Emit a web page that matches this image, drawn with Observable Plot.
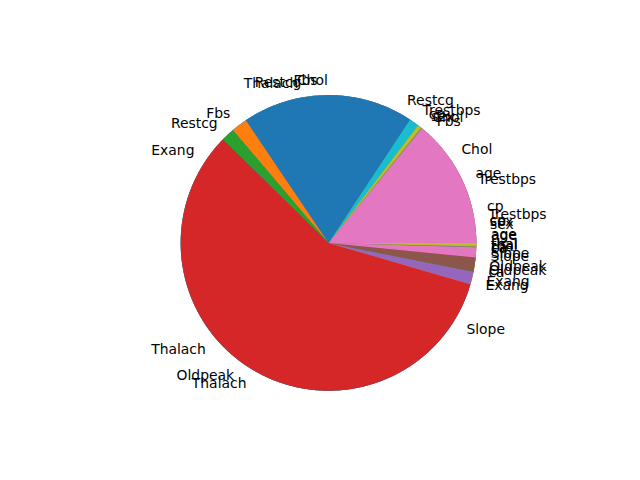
<!DOCTYPE html>
<html><head><meta charset="utf-8">
<script src="https://cdn.jsdelivr.net/npm/d3@7"></script>
<script src="https://cdn.jsdelivr.net/npm/@observablehq/plot@0.6"></script>
<style>body{margin:0;background:#fff}</style>
</head><body><div id="chart"></div>
<script>
// Slice labels (same 13 features in each of the three overdrawn pies)
const labels = ["age", "sex", "cp", "Trestbps", "Chol", "Fbs", "Restcg", "Thalach", "Exang", "Oldpeak", "Slope", "ca", "thal"];
// Shares (in degrees of the circle), one array per pie, drawn in this order
const pie1Values = [5.0, 5.4, 4.8, 15.8, 8.4, 17.8, 7.8, 71.4, 18.2, 159.8, 27.2, 16.0, 2.4];
const pie2Values = [5.6, 1.8, 0.8, 3.8, 76.6, 10.6, 0.8, 242.0, 5.5, 5.5, 4.5, 1.0, 1.5];
const pie3Values = [50.8, 0.3, 1.7, 3.7, 67.5, 6.3, 5.3, 208.2, 4.9, 5.6, 4.0, 0.3, 1.4];
// matplotlib tab10 cycle, continued across pies
const palette = ["#1f77b4", "#ff7f0e", "#2ca02c", "#d62728", "#9467bd", "#8c564b", "#e377c2", "#7f7f7f", "#bcbd22", "#17becf"];

const pies = [pie1Values, pie2Values, pie3Values];
const wedges = [], texts = [];
let colorIndex = 0;
pies.forEach((vals, p) => {
  const arcs = d3.pie().sort(null).value(d => d)(vals);
  arcs.forEach((a, i) => {
    const color = palette[colorIndex++ % palette.length];
    const key = p + "-" + i;
    const n = Math.max(2, Math.ceil((a.endAngle - a.startAngle) / (Math.PI / 360)));
    wedges.push({key, color, x: 0, y: 0});
    for (let k = 0; k <= n; k++) {
      const t = a.startAngle + (a.endAngle - a.startAngle) * k / n;
      wedges.push({key, color, x: Math.cos(t), y: Math.sin(t)});
    }
    const mid = (a.startAngle + a.endAngle) / 2;
    texts.push({label: labels[i], x: 1.1 * Math.cos(mid), y: 1.1 * Math.sin(mid)});
  });
});

const plot = Plot.plot({
  width: 640, height: 480,
  marginLeft: 143.2, marginRight: 127.2, marginTop: 57.6, marginBottom: 52.8,
  x: {domain: [-1.25, 1.25], axis: null},
  y: {domain: [-1.25, 1.25], axis: null},
  color: {type: "identity"},
  style: {fontFamily: "DejaVu Sans", fontSize: "13.9px", background: "white", color: "black"},
  marks: [
    Plot.line(wedges, {x: "x", y: "y", z: "key", fill: "color", stroke: "none", curve: "linear-closed"}),
    Plot.text(texts.filter(d => d.x > 0), {x: "x", y: "y", text: "label", textAnchor: "start", fontSize: 13.9, fill: "black"}),
    Plot.text(texts.filter(d => d.x <= 0), {x: "x", y: "y", text: "label", textAnchor: "end", fontSize: 13.9, fill: "black"})
  ]
});
document.getElementById("chart").appendChild(plot);
</script>
</body></html>
